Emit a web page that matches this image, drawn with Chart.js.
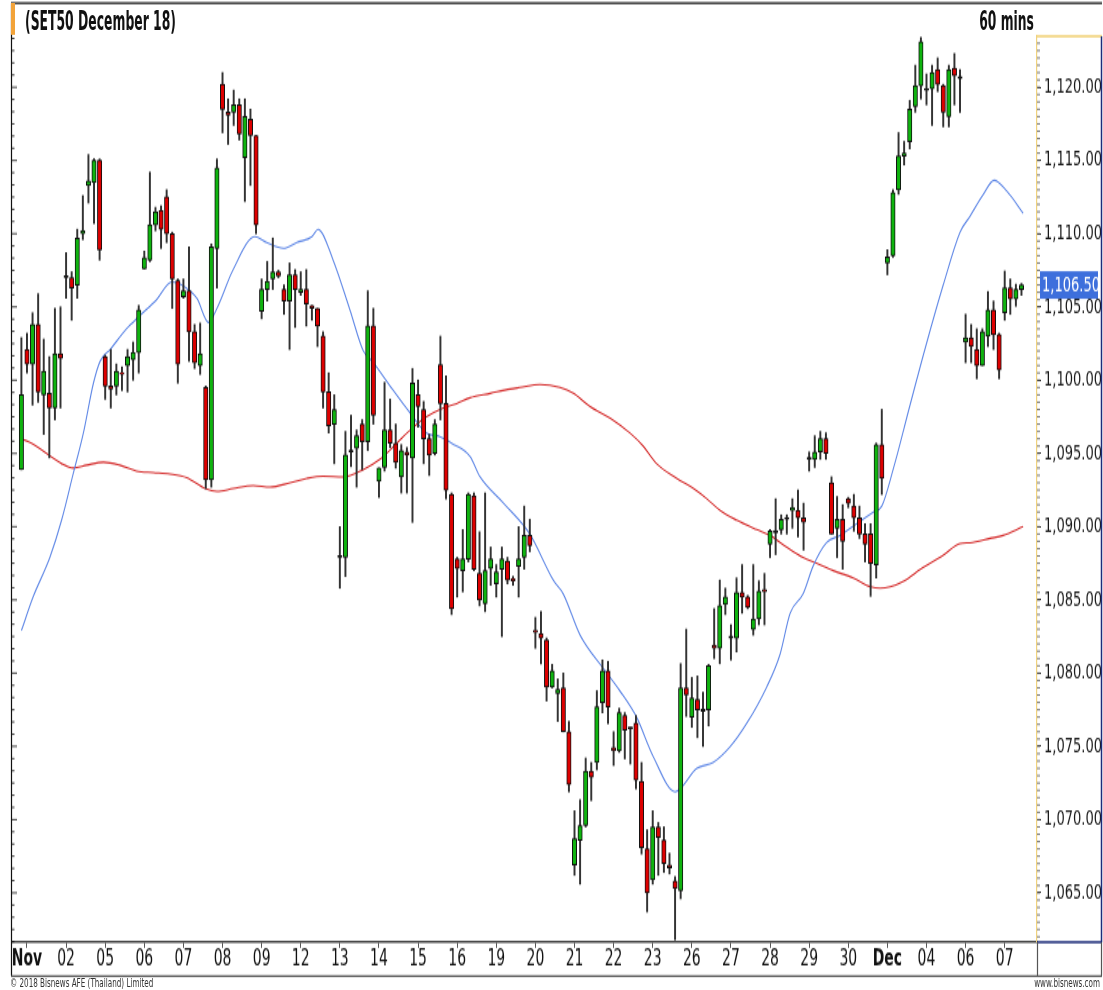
<!DOCTYPE html>
<html>
<head>
<meta charset="utf-8">
<title>SET50 December 18 - 60 mins</title>
<script src="https://cdn.jsdelivr.net/npm/chart.js@4.4.1/dist/chart.umd.min.js"></script>
<style>
  html, body { margin: 0; background: #fff; }
  #page { position: relative; width: 1103px; height: 990px; overflow: hidden; }
  /* the reference is drawn tall and narrow, so the whole sheet is stretched vertically */
  #sheet { position: absolute; left: 0; top: 0; width: 1103px; height: 683px; transform: scaleY(1.4495); transform-origin: 0 0; }
  #sheet canvas { position: absolute; left: 0; top: 0; }
  .lbl { position: absolute; font-family: 'Liberation Sans Narrow', 'Arial Narrow', 'DejaVu Sans Condensed', sans-serif; color: #111; white-space: nowrap; line-height: 1; }
  #title { left: 25px; top: 6px; font-size: 18px; font-weight: bold; transform: scaleX(0.765); transform-origin: 0 0; }
  #interval { right: 69px; top: 6px; font-size: 18px; font-weight: bold; transform: scaleX(0.76); transform-origin: 100% 0; }
  #mark { position: absolute; left: 11px; top: 2px; width: 4px; height: 22px; background: #f2a33a; }
  #copy { left: 10px; top: 675px; font-size: 8px; color: #333; }
  #site { right: 3px; top: 675px; font-size: 8px; color: #333; }
</style>
</head>
<body>
<div id="page">
  <div id="sheet">
    <canvas id="chart" width="1103" height="683"></canvas>
    <div id="mark"></div>
    <div class="lbl" id="title">(SET50 December 18)</div>
    <div class="lbl" id="interval">60 mins</div>
    <div class="lbl" id="copy">© 2018 Bisnews AFE (Thailand) Limited</div>
    <div class="lbl" id="site">www.bisnews.com</div>
  </div>
</div>
<script>
// hourly candles, Nov 01 .. Dec 07 (slot index = position on the time axis)
var opens = [
  1093.9, 1102.1, 1101.1, 1103.8, 1099.0, 1099.1, 1098.1, 1101.8, 1107.0, 1107.0,
  1106.5, 1110.0, 1113.3, 1113.5, 1115.0, 1101.6, 1099.6, 1099.6, 1100.5, 1101.0,
  1101.4, 1101.9, 1107.6, 1108.2, 1110.6, 1111.6, 1112.5, 1110.0, 1106.8, 1105.7,
  1106.1, 1103.3, 1101.0, 1099.5, 1093.2, 1109.0, 1120.2, 1118.3, 1118.3, 1118.8,
  1115.2, 1117.8, 1116.7, 1104.7, 1106.2, 1106.9, 1107.4, 1106.2, 1105.4, 1107.2,
  1106.0, 1106.2, 1105.1, 1104.9, 1103.0, 1099.2, 1097.0, 1087.9, 1087.9, 1095.1,
  1095.35, 1097.0, 1095.8, 1103.7, 1093.1, 1094.05, 1096.6, 1095.7, 1093.4, 1095.1,
  1094.7, 1099.0, 1098.0, 1096.0, 1095.0, 1101.05, 1098.4, 1092.2, 1087.8, 1087.0,
  1087.8, 1092.1, 1086.8, 1084.75, 1087.15, 1086.1, 1087.1, 1087.65, 1086.45, 1087.3,
  1087.9, 1089.4, 1082.9, 1082.7, 1082.25, 1079.05, 1078.6, 1079.0, 1076.0, 1066.9,
  1068.6, 1069.6, 1073.3, 1073.9, 1078.0, 1080.15, 1074.9, 1074.7, 1077.1, 1076.2,
  1076.6, 1072.6, 1068.0, 1065.9, 1069.5, 1068.6, 1066.9, 1065.8, 1065.15, 1079.0,
  1077.0, 1078.2, 1077.4, 1077.5, 1081.9, 1081.7, 1084.7, 1082.4, 1082.4, 1085.5,
  1085.2, 1083.0, 1083.7, 1085.7, 1088.8, 1089.6, 1089.8, 1090.5, 1091.1, 1091.1,
  1090.6, 1094.6, 1094.6, 1095.1, 1096.0, 1093.0, 1089.9, 1090.5, 1091.9, 1091.4,
  1090.6, 1089.5, 1089.5, 1087.4, 1095.6, 1108.0, 1108.5, 1113.0, 1115.3, 1116.3,
  1118.7, 1120.1, 1119.8, 1119.9, 1121.2, 1120.1, 1118.0, 1121.3, 1120.6, 1102.6,
  1102.9, 1102.1, 1101.0, 1103.0, 1104.8, 1103.1, 1104.6, 1106.3, 1105.55, 1106.2
];
var highs = [
  1102.9, 1103.2, 1104.6, 1105.9, 1102.8, 1101.6, 1104.9, 1105.0, 1108.7, 1107.4,
  1110.3, 1112.6, 1115.4, 1115.1, 1115.1, 1101.7, 1102.1, 1101.1, 1100.9, 1102.1,
  1102.6, 1105.1, 1108.8, 1114.2, 1111.8, 1111.9, 1113.0, 1110.1, 1106.9, 1106.9,
  1109.1, 1103.8, 1103.9, 1099.6, 1109.3, 1115.1, 1121.0, 1119.2, 1119.8, 1119.2,
  1119.2, 1118.5, 1116.7, 1106.9, 1108.1, 1109.7, 1107.5, 1106.5, 1108.0, 1107.55,
  1107.4, 1107.55, 1105.1, 1104.9, 1103.3, 1100.5, 1099.0, 1090.0, 1096.5, 1097.6,
  1096.6, 1097.3, 1106.1, 1104.9, 1094.0, 1099.85, 1098.7, 1097.0, 1095.6, 1095.4,
  1100.8, 1100.0, 1098.55, 1096.3, 1097.3, 1103.0, 1100.3, 1092.3, 1087.9, 1089.8,
  1092.3, 1092.3, 1089.65, 1092.3, 1088.6, 1087.4, 1088.6, 1087.9, 1086.6, 1090.0,
  1091.4, 1090.5, 1083.8, 1084.2, 1082.4, 1080.6, 1079.6, 1080.0, 1076.7, 1070.6,
  1071.35, 1074.2, 1073.9, 1078.8, 1080.9, 1080.8, 1076.0, 1077.6, 1077.3, 1076.3,
  1077.1, 1073.9, 1069.3, 1070.6, 1069.8, 1069.5, 1067.7, 1066.1, 1080.65, 1083.0,
  1079.7, 1079.8, 1078.7, 1080.6, 1084.4, 1086.35, 1085.8, 1083.3, 1086.5, 1087.4,
  1085.3, 1087.4, 1086.3, 1086.8, 1089.8, 1091.9, 1090.8, 1090.8, 1091.9, 1092.5,
  1091.6, 1095.1, 1096.2, 1096.5, 1096.4, 1093.4, 1092.05, 1091.5, 1092.0, 1092.2,
  1091.4, 1090.2, 1090.2, 1095.7, 1098.0, 1108.9, 1113.0, 1116.9, 1116.3, 1119.1,
  1121.5, 1123.4, 1120.9, 1121.5, 1122.0, 1120.2, 1121.5, 1122.3, 1121.2, 1104.5,
  1103.8, 1103.5, 1103.5, 1106.05, 1105.4, 1103.2, 1107.45, 1106.9, 1106.55, 1106.6
];
var lows = [
  1093.9, 1100.5, 1098.3, 1098.5, 1096.3, 1094.7, 1097.3, 1098.1, 1105.6, 1104.1,
  1105.6, 1109.6, 1112.1, 1110.7, 1108.2, 1098.7, 1098.1, 1099.0, 1099.3, 1099.2,
  1100.0, 1100.5, 1107.6, 1108.1, 1110.2, 1109.0, 1109.4, 1104.9, 1099.8, 1105.6,
  1101.3, 1100.8, 1100.4, 1092.6, 1092.7, 1106.3, 1116.9, 1116.1, 1117.4, 1116.4,
  1112.2, 1113.3, 1110.0, 1104.2, 1105.4, 1106.2, 1107.0, 1104.5, 1102.1, 1103.6,
  1105.8, 1103.7, 1104.1, 1102.3, 1098.1, 1096.4, 1094.3, 1085.8, 1086.6, 1094.1,
  1092.7, 1093.9, 1095.2, 1097.0, 1092.0, 1093.8, 1095.4, 1094.0, 1092.3, 1092.3,
  1090.3, 1096.8, 1094.3, 1093.5, 1094.9, 1097.3, 1091.9, 1084.0, 1085.2, 1085.55,
  1087.6, 1087.0, 1084.6, 1084.2, 1086.0, 1085.2, 1082.5, 1086.1, 1086.0, 1085.2,
  1087.1, 1088.3, 1081.7, 1080.65, 1078.1, 1079.0, 1076.7, 1076.0, 1071.9, 1066.2,
  1065.6, 1069.5, 1071.3, 1073.4, 1077.3, 1076.55, 1073.7, 1074.6, 1074.15, 1073.8,
  1072.1, 1067.65, 1063.7, 1065.6, 1066.2, 1066.4, 1066.3, 1061.8, 1064.6, 1077.05,
  1076.3, 1075.6, 1075.0, 1076.4, 1081.0, 1080.65, 1084.0, 1080.9, 1081.45, 1084.1,
  1084.4, 1082.6, 1083.3, 1083.3, 1087.9, 1088.1, 1089.5, 1089.5, 1089.9, 1089.3,
  1088.4, 1093.8, 1094.05, 1094.6, 1094.6, 1089.5, 1087.9, 1087.1, 1091.3, 1089.7,
  1089.2, 1087.6, 1085.25, 1086.5, 1092.2, 1107.2, 1108.4, 1112.7, 1114.7, 1115.8,
  1118.3, 1119.2, 1118.8, 1117.4, 1119.7, 1117.3, 1117.3, 1118.8, 1118.3, 1101.2,
  1101.2, 1100.1, 1101.0, 1102.3, 1102.1, 1100.1, 1104.1, 1104.5, 1105.05, 1105.8
];
var closes = [
  1099.0, 1101.1, 1103.8, 1099.2, 1100.6, 1098.1, 1101.8, 1101.5, 1107.0, 1106.3,
  1109.7, 1110.2, 1113.6, 1115.0, 1108.9, 1099.6, 1099.4, 1100.6, 1100.4, 1101.6,
  1101.9, 1104.8, 1108.35, 1110.6, 1111.5, 1110.3, 1110.0, 1106.9, 1101.1, 1106.1,
  1103.3, 1101.2, 1101.8, 1093.2, 1109.1, 1114.5, 1118.5, 1118.1, 1118.8, 1116.8,
  1118.0, 1116.7, 1110.6, 1106.2, 1106.75, 1107.4, 1107.1, 1105.4, 1107.2, 1106.2,
  1106.2, 1105.2, 1104.9, 1103.7, 1099.2, 1096.9, 1098.0, 1087.9, 1094.9, 1095.1,
  1096.2, 1095.8, 1103.7, 1097.6, 1094.0, 1096.6, 1095.7, 1094.4, 1095.2, 1094.9,
  1099.8, 1098.2, 1096.0, 1094.9, 1097.0, 1098.4, 1092.5, 1084.4, 1087.15, 1087.8,
  1092.2, 1087.1, 1085.0, 1087.0, 1087.8, 1086.9, 1087.8, 1086.35, 1086.3, 1087.8,
  1089.4, 1088.7, 1082.8, 1082.4, 1079.05, 1080.15, 1078.9, 1076.0, 1072.4, 1068.7,
  1069.6, 1073.3, 1072.9, 1077.7, 1080.15, 1077.7, 1074.7, 1077.3, 1076.1, 1076.2,
  1072.7, 1068.1, 1065.0, 1069.5, 1068.8, 1067.0, 1066.7, 1065.3, 1079.0, 1078.5,
  1078.3, 1077.5, 1077.4, 1080.5, 1081.7, 1084.6, 1085.2, 1082.4, 1085.5, 1085.2,
  1084.5, 1083.7, 1085.6, 1085.55, 1089.7, 1089.6, 1090.5, 1090.5, 1091.3, 1090.6,
  1090.3, 1094.6, 1095.1, 1096.0, 1095.0, 1089.5, 1090.5, 1089.0, 1091.6, 1090.6,
  1089.5, 1088.8, 1087.5, 1095.6, 1093.3, 1108.4, 1112.8, 1115.3, 1115.5, 1118.5,
  1120.1, 1123.1, 1119.8, 1121.0, 1120.2, 1118.3, 1121.2, 1120.8, 1120.6, 1102.9,
  1102.3, 1101.0, 1103.3, 1104.8, 1103.1, 1100.7, 1106.3, 1105.55, 1106.2, 1106.5
];

// blue (fast) average at these slots
var fastSlots = [0, 2.1, 5.1, 7.2, 9.3, 11.1, 12.9, 14.1, 15.9, 18.8, 21.2, 24.2, 26.9, 28.7, 31.4, 33.5, 35, 37.9, 41.8, 43.9,
  46.9, 49.3, 52, 53.1, 55.8, 58.8, 61.2, 63, 66, 69.6, 72.5, 74.9, 77, 80.3, 82.1, 86.3, 91, 95.2, 97, 100,
  104.2, 107.1, 110.1, 113.1, 117, 120.9, 123.8, 126.8, 129.8, 133.4, 135.8, 137.6, 139.9, 141.7, 144.1, 146.5, 149.5, 152.5, 154, 156.1,
  159.05, 162, 165, 168, 169.8, 172.2, 174.1, 176.4, 179.3];
var fastValues = [1082.9, 1085.2, 1087.9, 1090.45, 1093.65, 1096.4, 1099.8, 1101.3, 1102.1, 1103.5, 1104.4, 1105.5, 1106.7, 1106.5, 1105.6, 1103.95, 1104.9, 1107.55, 1109.8, 1109.4,
  1109.0, 1109.4, 1109.8, 1110.3, 1108.2, 1104.8, 1102.0, 1101.2, 1099.6, 1097.75, 1096.4, 1096.15, 1095.7, 1094.8, 1093.4, 1091.6, 1089.5, 1086.35, 1085.4, 1082.6,
  1080.3, 1078.8, 1077.0, 1074.3, 1071.9, 1073.5, 1073.9, 1074.95, 1076.55, 1079.05, 1081.3, 1084.1, 1085.4, 1087.3, 1088.9, 1089.4, 1090.2, 1091.0, 1091.4, 1094.0,
  1098.3, 1102.5, 1106.5, 1110.1, 1111.2, 1112.7, 1113.65, 1112.9, 1111.4];

// red (slow) average
var slowSlots = [0, 1.8, 4.5, 7.2, 9.3, 11.7, 14.7, 17.6, 20.6, 23.6, 26.6, 29.6, 32.9, 35, 37.9, 41.5, 44.5, 48.1, 51.1, 54,
  57.6, 61.2, 64.2, 67.2, 69.6, 72.5, 75.5, 77.9, 80.3, 83.9, 87.5, 89.2, 92.8, 96.4, 98.8, 101.8, 105.4, 108.9, 111.3, 113.7,
  117.3, 120.3, 122.7, 125.1, 128, 131.6, 134, 137, 139.9, 142.3, 145.3, 148.9, 152, 153.7, 155.5, 158, 161, 165, 168, 169.8,
  173.4, 175.7, 179.3];
var slowValues = [1096.0, 1095.7, 1095.0, 1094.3, 1094.0, 1094.2, 1094.4, 1094.2, 1093.8, 1093.7, 1093.6, 1093.35, 1092.6, 1092.4, 1092.6, 1092.8, 1092.7, 1093.0, 1093.3, 1093.45,
  1093.4, 1093.9, 1094.6, 1095.7, 1096.6, 1097.5, 1098.1, 1098.4, 1098.8, 1099.1, 1099.4, 1099.5, 1099.7, 1099.5, 1099.1, 1098.2, 1097.4, 1096.4, 1095.5, 1094.3,
  1093.3, 1092.6, 1091.9, 1091.1, 1090.45, 1089.8, 1089.4, 1088.6, 1087.9, 1087.5, 1087.0, 1086.5, 1085.9, 1085.8, 1085.9, 1086.3, 1087.1, 1088.05, 1088.85, 1088.9,
  1089.2, 1089.4, 1090.0];

// time axis labels and the slots they sit on
var dayLabels = ['Nov', '02', '05', '06', '07', '08', '09', '12', '13', '14', '15', '16', '19', '20', '21', '22', '23', '26', '27', '28', '29', '30', 'Dec', '04', '06', '07'];
var daySlots = [1, 8, 15, 22, 29, 36, 43, 50, 57, 64, 71, 78, 85, 92, 99, 106, 113, 120, 127, 134, 141, 148, 155, 162, 169, 176];
var priceTicks = [1065, 1070, 1075, 1080, 1085, 1090, 1095, 1100, 1105, 1110, 1115, 1120];

var NARROW = "'Liberation Sans Narrow', 'Arial Narrow', 'DejaVu Sans Condensed', sans-serif";
var GREEN = '#0fb30f', RED = '#dd0000';
var X_MIN = -1.68, X_MAX = 181.78;
var Y_MIN = 1061.64, Y_MAX = 1123.48;
var BAND_H = 23.45;

function price(v) {
  return v.toLocaleString('en-US', { minimumFractionDigits: 2, maximumFractionDigits: 2 });
}

var wicks = opens.map(function (o, i) { return { x: i, y: [lows[i], highs[i]] }; });
var bodies = opens.map(function (o, i) { return { x: i, y: [o, closes[i]] }; });
var fast = fastSlots.map(function (s, i) { return { x: s, y: fastValues[i] }; });
var slow = slowSlots.map(function (s, i) { return { x: s, y: slowValues[i] }; });

function bodyColour(c) {
  var d = closes[c.dataIndex] - opens[c.dataIndex];
  return d > 0 ? GREEN : d < 0 ? RED : '#111';
}

// frame, small axis ticks and the last price tag
var frame = {
  id: 'frame',
  afterDraw: function (chart) {
    var ctx = chart.ctx, a = chart.chartArea, y = chart.scales.y;
    var bandBottom = a.bottom + BAND_H;
    ctx.save();
    ctx.strokeStyle = '#111';
    ctx.lineWidth = 1.2;
    ctx.beginPath();
    ctx.moveTo(11, 2.2); ctx.lineTo(1102, 2.2);
    ctx.moveTo(11.5, 2.2); ctx.lineTo(11.5, bandBottom);
    ctx.stroke();

    ctx.lineWidth = 0.8;
    ctx.beginPath();
    for (var k = -6; k <= 80; k++) {
      var v = 1120 - k * 5 / 6;
      if (v < Y_MIN || v > Y_MAX) continue;
      var py = y.getPixelForValue(v);
      ctx.moveTo(11.5, py); ctx.lineTo(k % 6 === 0 ? 17 : 14.5, py);
    }
    ctx.stroke();

    ctx.strokeStyle = '#555';
    ctx.beginPath();
    for (var h = Math.ceil(Y_MIN * 2) / 2; h <= Y_MAX; h += 0.5) {
      var ry = y.getPixelForValue(h);
      ctx.moveTo(a.right, ry); ctx.lineTo(a.right + 3, ry);
    }
    ctx.stroke();

    ctx.strokeStyle = '#f0cf70';
    ctx.lineWidth = 1.4;
    ctx.beginPath();
    ctx.moveTo(a.right, a.top); ctx.lineTo(1102, a.top);
    ctx.stroke();

    ctx.strokeStyle = '#1c2c7a';
    ctx.lineWidth = 1.5;
    ctx.beginPath();
    ctx.moveTo(1101.5, a.top); ctx.lineTo(1101.5, a.bottom);
    ctx.moveTo(a.right, a.bottom); ctx.lineTo(1102, a.bottom);
    ctx.stroke();

    ctx.strokeStyle = '#555';
    ctx.lineWidth = 1.2;
    ctx.beginPath();
    ctx.moveTo(11, bandBottom); ctx.lineTo(1102, bandBottom);
    ctx.moveTo(a.right + 0.5, a.bottom); ctx.lineTo(a.right + 0.5, bandBottom);
    ctx.moveTo(1101.5, a.bottom); ctx.lineTo(1101.5, bandBottom);
    ctx.stroke();

    var last = closes[closes.length - 1];
    var ly = y.getPixelForValue(last);
    ctx.fillStyle = '#3d6fdc';
    ctx.fillRect(a.right + 3, ly - 9.5, 58, 19);
    ctx.fillStyle = '#fff';
    ctx.font = '14.5px ' + NARROW;
    ctx.textBaseline = 'middle';
    ctx.textAlign = 'left';
    ctx.fillText(price(last), a.right + 5, ly + 0.5);
    ctx.restore();
  }
};

new Chart(document.getElementById('chart'), {
  type: 'bar',
  data: {
    datasets: [
      { type: 'line', label: 'Fast average', data: fast, borderColor: '#6088e6', borderWidth: 1.1,
        pointRadius: 0, cubicInterpolationMode: 'monotone', order: 3 },
      { type: 'line', label: 'Slow average', data: slow, borderColor: '#d42a2a', borderWidth: 1.1,
        pointRadius: 0, cubicInterpolationMode: 'monotone', order: 3 },
      { label: 'Range', data: wicks, backgroundColor: '#333', barThickness: 1.3, grouped: false, order: 2 },
      { label: 'Body', data: bodies, backgroundColor: bodyColour, borderColor: '#111', borderWidth: 1,
        borderSkipped: false, barThickness: 4.4, minBarLength: 1.2, grouped: false, order: 1 }
    ]
  },
  options: {
    responsive: false,
    animation: false,
    devicePixelRatio: 1,
    layout: { padding: { left: 12, right: 2, top: 25, bottom: 9.65 } },
    plugins: { legend: { display: false }, tooltip: { enabled: false } },
    scales: {
      x: {
        type: 'linear', min: X_MIN, max: X_MAX, offset: false,
        afterBuildTicks: function (s) { s.ticks = daySlots.map(function (v) { return { value: v }; }); },
        afterFit: function (s) { s.height = BAND_H; },
        grid: { drawOnChartArea: false, offset: false, tickLength: 4, color: '#555' },
        border: { color: '#4a4a4a', width: 1.4 },
        ticks: {
          autoSkip: false, maxRotation: 0, padding: 0, color: '#111',
          font: function (c) {
            var l = dayLabels[c.index];
            return { family: NARROW, size: 15.5, lineHeight: 1, weight: (l === 'Nov' || l === 'Dec') ? 'bold' : 'normal' };
          },
          callback: function (v, i) { return dayLabels[i]; }
        }
      },
      y: {
        position: 'right', min: Y_MIN, max: Y_MAX, beginAtZero: false,
        afterBuildTicks: function (s) { s.ticks = priceTicks.map(function (v) { return { value: v }; }); },
        afterFit: function (s) { s.width = 64; },
        grid: { drawOnChartArea: false, tickLength: 4, color: '#333' },
        border: { color: '#efd27e', width: 1.2 },
        ticks: { padding: 3, color: '#1a1a1a', font: { family: NARROW, size: 14.5 }, callback: function (v) { return price(v); } }
      }
    }
  },
  plugins: [frame]
});
</script>
</body>
</html>
